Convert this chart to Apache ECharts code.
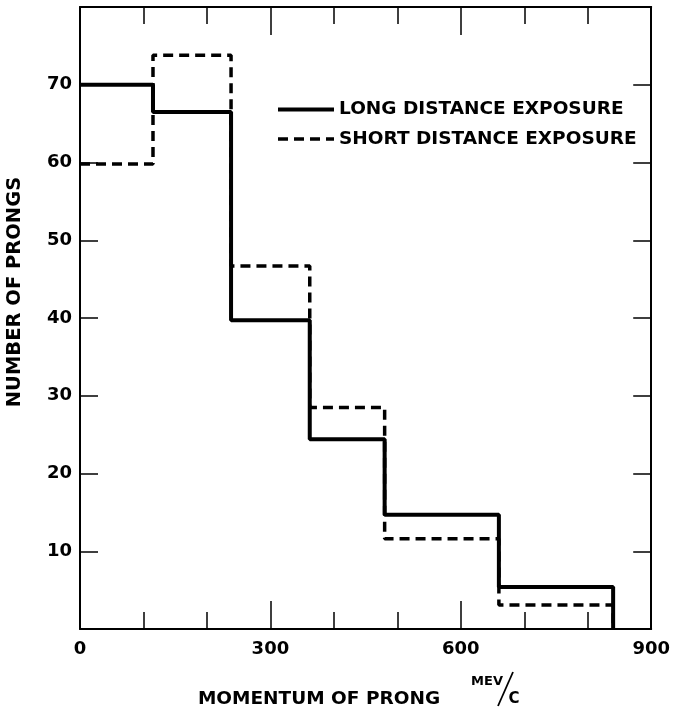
<!DOCTYPE html>
<html>
<head>
<meta charset="utf-8">
<script src="https://cdn.jsdelivr.net/npm/echarts@6/dist/echarts.min.js"></script>
<style>
html,body{margin:0;padding:0;background:#fff;}
#chart{width:673px;height:709px;}
</style>
</head>
<body>
<div id="chart"></div>
<script>
// Bin edges (MeV/c) and counts per bin
const binEdges = [0, 115, 238, 362, 480, 660, 840];
const longDistance = [70, 66.5, 39.7, 24.4, 14.7, 5.4];
const shortDistance = [59.8, 73.8, 46.7, 28.5, 11.6, 3.1];
const seriesNames = ['LONG DISTANCE EXPOSURE', 'SHORT DISTANCE EXPOSURE'];
const xTicks = [0, 300, 600, 900];
const yTicks = [10, 20, 30, 40, 50, 60, 70];

function stepPoints(vals) {
  const pts = [];
  for (let i = 0; i < vals.length; i++) pts.push([binEdges[i], vals[i]]);
  pts.push([binEdges[vals.length], vals[vals.length - 1]]);
  pts.push([binEdges[vals.length], 0]);
  return pts;
}

const FONT = 'DejaVu Sans';
const chart = echarts.init(document.getElementById('chart'), null, {renderer: 'canvas'});

const xBase = {
  type: 'value', min: 0, max: 900, interval: 300,
  axisLine: {show: true, onZero: false, lineStyle: {color: '#000', width: 2}},
  axisTick: {show: true, inside: true, length: 28, lineStyle: {color: '#000', width: 1.5}},
  minorTick: {show: true, splitNumber: 3, length: 17, lineStyle: {color: '#000', width: 1.5}},
  splitLine: {show: false}, minorSplitLine: {show: false}
};
const yBase = {
  type: 'value', min: 0, max: 80, interval: 10,
  axisLine: {show: true, onZero: false, lineStyle: {color: '#000', width: 2}},
  axisTick: {show: true, inside: true, length: 18, lineStyle: {color: '#000', width: 1.5}},
  splitLine: {show: false}
};

const longStyle = {color: '#000', width: 4, type: 'solid'};
const shortStyle = {color: '#000', width: 3.5, type: [10, 6]};

chart.setOption({
  animation: false,
  backgroundColor: '#fff',
  grid: {left: 80, right: 21, top: 7, bottom: 80, containLabel: false},
  xAxis: [
    Object.assign({}, xBase, {
      position: 'bottom',
      axisLabel: {show: true, margin: 11, color: '#000', fontFamily: FONT, fontWeight: 'bold', fontSize: 18,
        formatter: v => xTicks.includes(v) ? String(v) : ''}
    }),
    Object.assign({}, xBase, {position: 'top', axisLabel: {show: false}})
  ],
  yAxis: [
    Object.assign({}, yBase, {
      position: 'left',
      axisLabel: {show: true, margin: 8, color: '#000', fontFamily: FONT, fontWeight: 'bold', fontSize: 18,
        formatter: v => yTicks.includes(v) ? String(v) : ''}
    }),
    Object.assign({}, yBase, {position: 'right', axisLabel: {show: false}})
  ],
  legend: {
    orient: 'vertical', left: 276, top: 100, padding: 0,
    itemWidth: 56, itemHeight: 18, itemGap: 10.5,
    itemStyle: {color: 'transparent', borderColor: 'transparent', borderWidth: 0, opacity: 0},
    textStyle: {color: '#000', fontFamily: FONT, fontWeight: 'bold', fontSize: 18.5},
    data: [
      {name: seriesNames[0], lineStyle: longStyle},
      {name: seriesNames[1], lineStyle: shortStyle}
    ]
  },
  series: [
    {
      name: seriesNames[0], type: 'line', step: 'end', symbol: 'none',
      data: stepPoints(longDistance),
      lineStyle: longStyle,
      itemStyle: {color: '#000'}, z: 3
    },
    {
      name: seriesNames[1], type: 'line', step: 'end', symbol: 'none',
      data: stepPoints(shortDistance),
      lineStyle: shortStyle,
      itemStyle: {color: '#000'}, z: 2
    }
  ],
  graphic: [
    {type: 'text', x: 15, y: 292, rotation: Math.PI / 2,
      style: {text: 'NUMBER OF PRONGS', fill: '#000', font: 'bold 19.5px "DejaVu Sans"', textAlign: 'center', textVerticalAlign: 'middle'}},
    {type: 'text', x: 319, y: 699,
      style: {text: 'MOMENTUM OF PRONG', fill: '#000', font: 'bold 18.5px "DejaVu Sans"', textAlign: 'center', textVerticalAlign: 'middle'}},
    {type: 'text', x: 487, y: 682,
      style: {text: 'MEV', fill: '#000', font: 'bold 13px "DejaVu Sans"', textAlign: 'center', textVerticalAlign: 'middle'}},
    {type: 'line', shape: {x1: 513, y1: 672, x2: 498, y2: 706}, style: {stroke: '#000', lineWidth: 1.8}},
    {type: 'text', x: 514, y: 699,
      style: {text: 'C', fill: '#000', font: 'bold 15px "DejaVu Sans"', textAlign: 'center', textVerticalAlign: 'middle'}}
  ]
});
</script>
</body>
</html>
